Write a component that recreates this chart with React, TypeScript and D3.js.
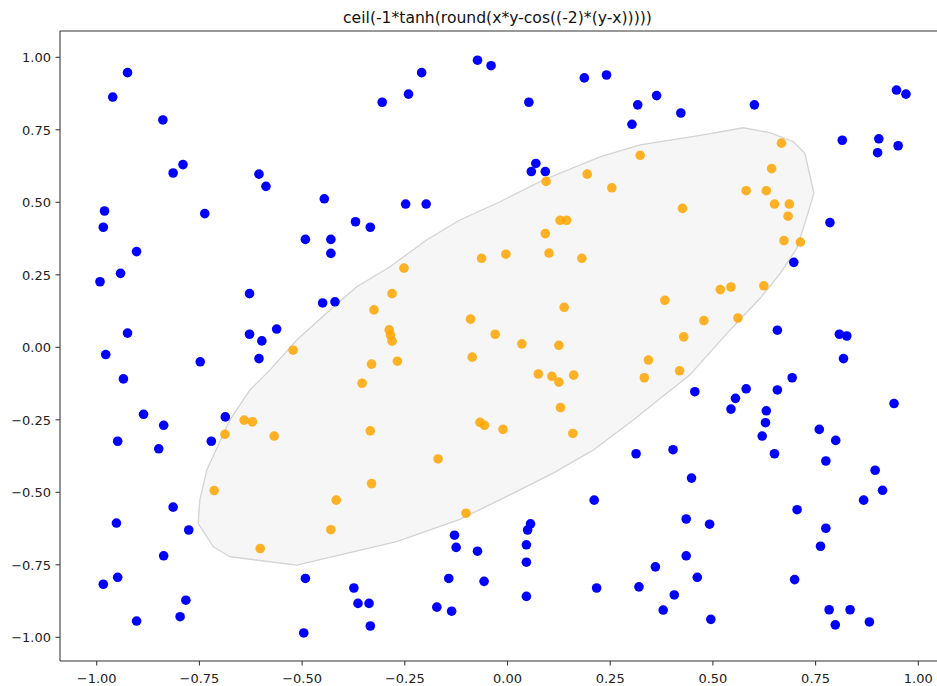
import React from "react";
import * as d3 from "d3";

const titleText = "ceil(-1*tanh(round(x*y-cos((-2)*(y-x)))))";
const xTicks = [-1.0, -0.75, -0.5, -0.25, 0.0, 0.25, 0.5, 0.75, 1.0];
const yTicks = [-1.0, -0.75, -0.5, -0.25, 0.0, 0.25, 0.5, 0.75, 1.0];

const blueX = [-0.925,-0.961,-0.839,-0.790,-0.814,-0.981,-0.737,-0.984,-0.903,-0.209,-0.241,-0.305,-0.605,-0.588,-0.446,-0.248,-0.198,-0.370,-0.334,-0.492,-0.430,-0.430,-0.073,-0.040,0.187,0.241,0.052,0.363,0.317,0.422,0.303,0.069,0.058,0.092,0.601,0.947,0.970,0.815,0.904,0.901,0.951,0.785,-0.942,-0.992,-0.925,-0.978,-0.748,-0.935,-0.886,-0.837,-0.687,-0.949,-0.849,-0.721,-0.628,-0.450,-0.420,-0.628,-0.598,-0.562,-0.605,-0.814,-0.952,-0.776,-0.837,-0.949,-0.984,-0.783,-0.797,-0.903,-0.492,-0.496,-0.374,-0.364,-0.337,-0.334,-0.129,-0.125,-0.143,-0.172,-0.136,-0.073,-0.057,0.056,0.049,0.046,0.046,0.046,0.211,0.217,0.320,0.360,0.379,0.406,0.435,0.435,0.448,0.462,0.492,0.495,0.775,0.895,0.913,0.867,0.705,0.775,0.762,0.699,0.783,0.834,0.798,0.881,0.697,0.657,0.808,0.826,0.818,0.693,0.456,0.581,0.555,0.544,0.657,0.630,0.628,0.620,0.650,0.759,0.799,0.941,0.313,0.403];
const blueY = [0.947,0.863,0.784,0.630,0.601,0.470,0.461,0.414,0.330,0.947,0.873,0.845,0.597,0.555,0.512,0.494,0.494,0.433,0.414,0.372,0.372,0.324,0.990,0.971,0.929,0.939,0.845,0.868,0.836,0.808,0.769,0.634,0.606,0.606,0.836,0.887,0.873,0.714,0.719,0.671,0.695,0.430,0.255,0.226,0.049,-0.025,-0.050,-0.109,-0.231,-0.269,-0.240,-0.324,-0.350,-0.324,0.185,0.153,0.157,0.045,0.022,0.063,-0.039,-0.551,-0.606,-0.630,-0.719,-0.793,-0.817,-0.872,-0.929,-0.944,-0.797,-0.985,-0.830,-0.883,-0.883,-0.961,-0.648,-0.690,-0.797,-0.896,-0.910,-0.703,-0.807,-0.609,-0.630,-0.681,-0.741,-0.859,-0.527,-0.830,-0.826,-0.757,-0.906,-0.854,-0.719,-0.592,-0.451,-0.793,-0.610,-0.938,-0.392,-0.424,-0.493,-0.527,-0.560,-0.624,-0.686,-0.801,-0.905,-0.905,-0.957,-0.947,0.293,0.059,0.045,0.039,-0.039,-0.105,-0.153,-0.143,-0.176,-0.213,-0.147,-0.219,-0.260,-0.306,-0.367,-0.283,-0.321,-0.194,-0.367,-0.353];

const orangeX = [0.094,0.194,0.323,0.254,0.426,0.128,0.144,0.092,0.667,0.643,0.581,0.630,0.650,0.686,0.683,0.673,0.713,-0.688,-0.252,-0.281,-0.325,-0.288,-0.285,-0.281,-0.522,-0.331,-0.268,-0.354,-0.090,-0.086,-0.641,-0.621,-0.568,-0.334,-0.169,-0.714,-0.331,-0.417,-0.430,-0.602,-0.101,0.518,0.544,0.624,0.478,0.561,-0.063,-0.004,0.101,0.181,0.138,0.383,-0.030,0.035,0.125,0.075,0.108,0.125,0.161,0.343,0.333,0.429,0.419,0.129,-0.067,-0.056,-0.011,0.159];
const orangeY = [0.572,0.597,0.662,0.550,0.479,0.438,0.438,0.392,0.704,0.616,0.540,0.540,0.494,0.494,0.452,0.368,0.363,-0.300,0.273,0.185,0.129,0.060,0.042,0.021,-0.010,-0.058,-0.048,-0.124,0.097,-0.034,-0.251,-0.257,-0.306,-0.288,-0.385,-0.494,-0.470,-0.527,-0.629,-0.694,-0.572,0.199,0.208,0.212,0.092,0.101,0.307,0.321,0.325,0.307,0.138,0.162,0.045,0.012,0.007,-0.092,-0.100,-0.120,-0.096,-0.044,-0.105,0.036,-0.081,-0.208,-0.259,-0.269,-0.283,-0.297];

const hullX = [-0.116,-0.018,0.087,0.225,0.323,0.469,0.574,0.639,0.696,0.724,0.746,0.724,0.704,0.664,0.615,0.542,0.444,0.306,0.209,0.111,0.006,-0.116,-0.270,-0.513,-0.676,-0.716,-0.753,-0.749,-0.732,-0.676,-0.627,-0.578,-0.513,-0.432,-0.367,-0.286,-0.197];
const hullY = [0.439,0.502,0.577,0.657,0.698,0.731,0.757,0.740,0.709,0.669,0.531,0.428,0.341,0.255,0.169,0.060,-0.095,-0.251,-0.354,-0.434,-0.509,-0.593,-0.670,-0.751,-0.722,-0.688,-0.607,-0.527,-0.423,-0.251,-0.147,-0.078,0.025,0.129,0.209,0.278,0.370];

const W = 937;
const H = 686;
const left = 60;
const right = 935;
const top = 31;
const bottom = 661;

const x = d3.scaleLinear().domain([-1.0894, 1.0407]).range([left, right]);
const y = d3.scaleLinear().domain([-1.0817, 1.0907]).range([bottom, top]);

const fmt = (v: number) => d3.format(".2f")(v).replace("-", "\u2212");

export default function App() {
  const hullPts: [number, number][] = hullX.map((hx, i) => [x(hx), y(hullY[i])]);
  const hullPath = d3.line().curve(d3.curveLinearClosed)(hullPts) || "";
  const font = "DejaVu Sans, sans-serif";
  return (
    <svg width={W} height={H} style={{ position: "absolute", left: 0, top: 0, background: "#fff" }}>
      <rect x={0} y={0} width={W} height={H} fill="#fff" />
      <path d={hullPath} fill="#f6f6f6" stroke="#d3d3d3" strokeWidth={1.3} />
      {blueX.map((bx, i) => (
        <circle key={"b" + i} cx={x(bx)} cy={y(blueY[i])} r={4.8} fill="#0000ff" />
      ))}
      {orangeX.map((ox, i) => (
        <circle key={"o" + i} cx={x(ox)} cy={y(orangeY[i])} r={4.8} fill="#ffa500" fillOpacity={0.85} />
      ))}
      {/* spines */}
      <line x1={left} y1={top} x2={W} y2={top} stroke="#333" strokeWidth={1.05} />
      <line x1={left} y1={bottom} x2={W} y2={bottom} stroke="#333" strokeWidth={1.05} />
      <line x1={left} y1={top} x2={left} y2={bottom} stroke="#333" strokeWidth={1.05} />
      {xTicks.map((t) => (
        <g key={"xt" + t}>
          <line x1={x(t)} x2={x(t)} y1={bottom} y2={bottom + 4.5} stroke="#333" strokeWidth={1.05} />
          <text x={x(t)} y={682.5} textAnchor="middle" fontFamily={font} fontSize={13} fill="#222">
            {fmt(t)}
          </text>
        </g>
      ))}
      {yTicks.map((t) => (
        <g key={"yt" + t}>
          <line x1={left - 4.5} x2={left} y1={y(t)} y2={y(t)} stroke="#333" strokeWidth={1.05} />
          <text x={51} y={y(t) + 4.7} textAnchor="end" fontFamily={font} fontSize={13} fill="#222">
            {fmt(t)}
          </text>
        </g>
      ))}
      <text x={(left + right) / 2} y={23} textAnchor="middle" fontFamily={font} fontSize={15.6} fill="#111">
        {titleText}
      </text>
    </svg>
  );
}
